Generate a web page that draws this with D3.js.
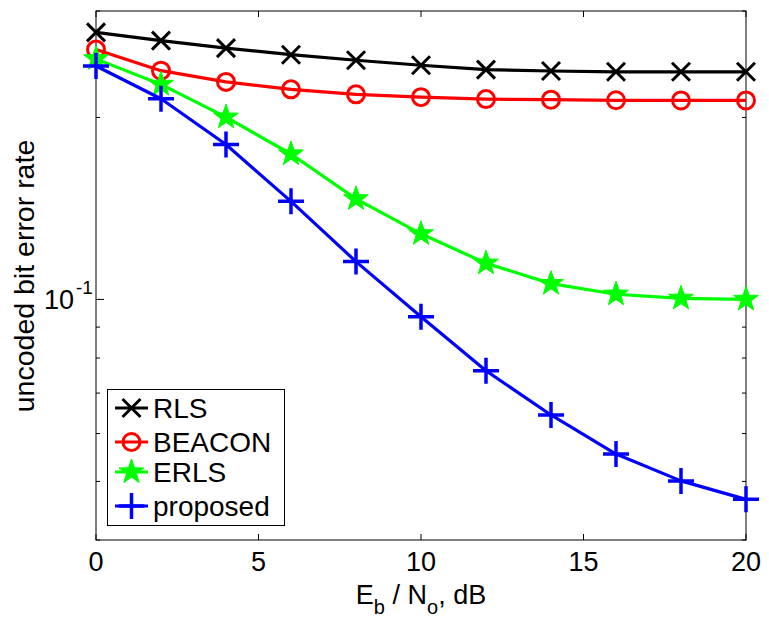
<!DOCTYPE html>
<html>
<head>
<meta charset="utf-8">
<script src="https://cdn.jsdelivr.net/npm/d3@7"></script>
<style>
  html, body { margin: 0; padding: 0; background: #fff; }
  svg { display: block; font-family: Arial, "Liberation Sans", sans-serif; }
</style>
</head>
<body>
<svg id="chart" width="769" height="619"></svg>
<script>
const snr = [0, 2, 4, 6, 8, 10, 12, 14, 16, 18, 20];
const rls = [0.2766, 0.268, 0.2605, 0.254, 0.2487, 0.244, 0.240, 0.2387, 0.238, 0.238, 0.238];
const beacon = [0.259, 0.239, 0.229, 0.2226, 0.2184, 0.2161, 0.2145, 0.214, 0.2135, 0.2134, 0.2134];
const erls = [0.250, 0.2268, 0.2002, 0.174, 0.1467, 0.1284, 0.1148, 0.1062, 0.102, 0.1004, 0.1000];
const proposed = [0.2433, 0.2148, 0.1804, 0.1453, 0.1155, 0.0936, 0.0762, 0.0644, 0.0555, 0.0501, 0.0467];

const xTicks = [0, 5, 10, 15, 20];
const yMinorTicks = [0.04, 0.05, 0.06, 0.07, 0.08, 0.09, 0.2, 0.3];

const series = [
  { name: 'RLS', values: rls, color: '#000000', marker: 'x' },
  { name: 'BEACON', values: beacon, color: '#ff0000', marker: 'o' },
  { name: 'ERLS', values: erls, color: '#00ff00', marker: 'star' },
  { name: 'proposed', values: proposed, color: '#0000ff', marker: 'plus' }
];

const svg = d3.select('#chart');
const L = 96, R = 746, T = 11, B = 540;

const x = d3.scaleLinear().domain([0, 20]).range([L, R]);
const y = d3.scaleLog().domain([0.04, 0.3]).range([B, T]);

// ticks (inside, on all four sides)
const axes = svg.append('g').attr('stroke', '#000').attr('stroke-width', 1);
xTicks.forEach(t => {
  axes.append('line').attr('x1', x(t)).attr('x2', x(t)).attr('y1', B).attr('y2', B - 6);
  axes.append('line').attr('x1', x(t)).attr('x2', x(t)).attr('y1', T).attr('y2', T + 6);
});
yMinorTicks.forEach(t => {
  axes.append('line').attr('x1', L).attr('x2', L + 4).attr('y1', y(t)).attr('y2', y(t));
  axes.append('line').attr('x1', R).attr('x2', R - 4).attr('y1', y(t)).attr('y2', y(t));
});
axes.append('line').attr('x1', L).attr('x2', L + 8).attr('y1', y(0.1)).attr('y2', y(0.1));
axes.append('line').attr('x1', R).attr('x2', R - 8).attr('y1', y(0.1)).attr('y2', y(0.1));

// tick labels
svg.append('g').selectAll('text')
  .data(xTicks)
  .enter().append('text')
  .attr('x', d => x(d))
  .attr('y', 571)
  .attr('text-anchor', 'middle')
  .attr('font-size', 27)
  .text(d => d);

svg.append('text')
  .attr('x', 74)
  .attr('y', y(0.1) + 10)
  .attr('text-anchor', 'end')
  .attr('font-size', 27)
  .text('10');
svg.append('text')
  .attr('x', 76)
  .attr('y', y(0.1) - 5)
  .attr('font-size', 19)
  .text('-1');

// axis labels
const xl = svg.append('text')
  .attr('x', 421)
  .attr('y', 604)
  .attr('text-anchor', 'middle')
  .attr('font-size', 27);
xl.append('tspan').text('E');
xl.append('tspan').attr('font-size', 20).attr('dy', 10).text('b');
xl.append('tspan').attr('dy', -10).text(' / N');
xl.append('tspan').attr('font-size', 20).attr('dy', 10).text('o');
xl.append('tspan').attr('dy', -10).text(', dB');

svg.append('text')
  .attr('transform', 'translate(34,276) rotate(-90)')
  .attr('text-anchor', 'middle')
  .attr('font-size', 28.5)
  .text('uncoded bit error rate');

// frame
svg.append('rect')
  .attr('x', L).attr('y', T)
  .attr('width', R - L).attr('height', B - T)
  .attr('fill', 'none').attr('stroke', '#000').attr('stroke-width', 1);

const starPath = (() => {
  const pts = [];
  for (let i = 0; i < 10; i++) {
    const r = i % 2 === 0 ? 13 : 5.2;
    const a = -Math.PI / 2 + i * Math.PI / 5;
    pts.push([r * Math.cos(a), r * Math.sin(a)]);
  }
  return 'M' + pts.map(p => p.join(',')).join('L') + 'Z';
})();

function drawMarker(g, type, color) {
  if (type === 'x') {
    g.append('path').attr('d', 'M-9,-9L9,9M-9,9L9,-9')
      .attr('stroke', color).attr('stroke-width', 3).attr('fill', 'none');
  } else if (type === 'o') {
    g.append('circle').attr('r', 8.5)
      .attr('stroke', color).attr('stroke-width', 3).attr('fill', 'none');
  } else if (type === 'star') {
    g.append('path').attr('d', starPath).attr('fill', color).attr('stroke', color).attr('stroke-width', 1);
  } else {
    g.append('path').attr('d', 'M-13,0L13,0M0,-13L0,13')
      .attr('stroke', color).attr('stroke-width', 3.5).attr('fill', 'none');
  }
}

const line = d3.line()
  .x((d, i) => x(snr[i]))
  .y(d => y(d));

series.forEach(s => {
  svg.append('path')
    .attr('d', line(s.values))
    .attr('fill', 'none')
    .attr('stroke', s.color)
    .attr('stroke-width', 3.2)
    .attr('stroke-linejoin', 'round');
  s.values.forEach((v, i) => {
    const g = svg.append('g').attr('transform', `translate(${x(snr[i])},${y(v)})`);
    drawMarker(g, s.marker, s.color);
  });
});

// legend
const leg = svg.append('g');
leg.append('rect')
  .attr('x', 107.5).attr('y', 389.5)
  .attr('width', 177).attr('height', 136)
  .attr('fill', '#fff').attr('stroke', '#000').attr('stroke-width', 1);
const legY = [408, 442, 472, 506];
series.forEach((s, i) => {
  leg.append('line')
    .attr('x1', 115).attr('x2', 148)
    .attr('y1', legY[i]).attr('y2', legY[i])
    .attr('stroke', s.color).attr('stroke-width', 3.2);
  drawMarker(leg.append('g').attr('transform', `translate(131.5,${legY[i]})`), s.marker, s.color);
  leg.append('text')
    .attr('x', 153)
    .attr('y', legY[i] + 10)
    .attr('font-size', 28)
    .text(s.name);
});
</script>
</body>
</html>
